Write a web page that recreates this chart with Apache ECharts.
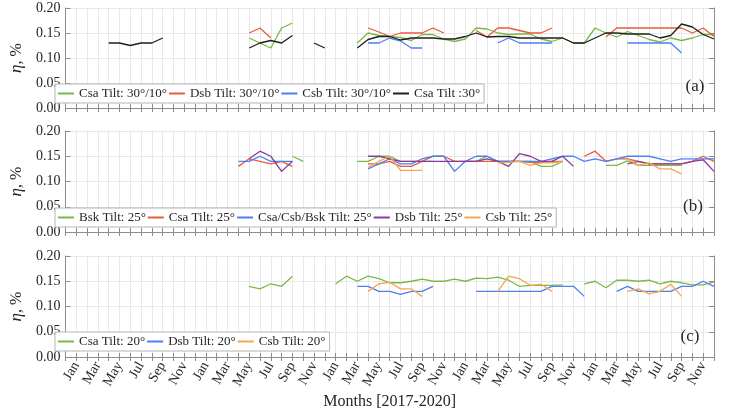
<!DOCTYPE html>
<html><head><meta charset="utf-8">
<script src="https://cdn.jsdelivr.net/npm/echarts@6/dist/echarts.min.js"></script>
<style>html,body{margin:0;padding:0;background:#fff}#c{width:731px;height:415px}</style>
</head><body><div id="c"></div><script>
// ---------- categories ----------
const months = ['Jan','Feb','Mar','Apr','May','Jun','Jul','Aug','Sep','Oct','Nov','Dec'];
const years = [2016, 2017, 2018, 2019, 2020];
const labelMonths = ['Jan','Mar','May','Jul','Sep','Nov'];
const categories = ['Dec 2015'].concat(years.flatMap(y => months.map(m => m + ' ' + y)));
const yTicks = [0, 0.05, 0.10, 0.15, 0.20];

// ---------- panel (a): tilt 30/10 ----------
const a_csa_30_10 = [['May 2017', [0.14,0.13,0.12,0.16,0.17]],
  ['Mar 2018', [0.13,0.15,0.145,0.143,0.141,0.135,0.147,0.147,0.138,0.133,0.138,0.16,0.158,0.15,0.147,0.148,0.148,0.138,0.133,0.14,0.13,0.13,0.16,0.15,0.142,0.153,0.145,0.137,0.132,0.14,0.135,0.14,0.147,0.147]]];
const a_dsb_30_10 = [['May 2017', [0.15,0.16,0.14]],
  ['Apr 2018', [0.16,0.152,0.143,0.15,0.15,0.15,0.16,0.15]],
  ['Feb 2019', [0.155,0.142,0.16,0.16,0.155,0.15,0.15,0.16]],
  ['Feb 2020', [0.142,0.16,0.16,0.16,0.16,0.16,0.16,0.16,0.15,0.16,0.143]]];
const a_csb_30_10 = [['Apr 2018', [0.13,0.13,0.14,0.134,0.12,0.12]],
  ['Apr 2019', [0.13,0.14,0.13,0.13,0.13,0.13]],
  ['Apr 2020', [0.13,0.13,0.13,0.13,0.13,0.11]]];
const a_csa_30 = [['Apr 2016', [0.13,0.13,0.125,0.13,0.13,0.14]],
  ['May 2017', [0.12,0.13,0.135,0.13,0.145]],
  ['Nov 2017', [0.13,0.12]],
  ['Mar 2018', [0.12,0.137,0.143,0.143,0.136,0.14,0.14,0.14,0.138,0.138,0.143,0.15,0.142,0.143,0.143,0.14,0.14,0.14,0.14,0.14,0.13,0.13,0.14,0.15,0.15,0.148,0.148,0.148,0.14,0.145,0.168,0.162,0.147,0.138]]];

// ---------- panel (b): tilt 25 ----------
const b_bsk_25 = [['Sep 2017', [0.15,0.14]],
  ['Mar 2018', [0.14,0.14,0.15,0.15,0.14,0.14,0.14,0.14]],
  ['Jan 2019', [0.14,0.14,0.15,0.14,0.14,0.14,0.14,0.13,0.13,0.14]],
  ['Feb 2020', [0.132,0.132,0.141,0.132,0.132,0.132,0.132,0.132]]];
const b_csa_25 = [['Apr 2017', [0.13,0.145,0.14,0.135,0.14,0.13]],
  ['Apr 2018', [0.135,0.135,0.14,0.13,0.13,0.14,0.15,0.15,0.14,0.14,0.14,0.14,0.14,0.14,0.14,0.138,0.138,0.14,0.14]],
  ['Dec 2019', [0.15,0.16,0.14,0.145,0.145,0.14,0.135,0.135,0.135,0.135,0.14,0.15,0.14]]];
const b_csacsbbsk_25 = [['Apr 2017', [0.14,0.14,0.15,0.14,0.14,0.14]],
  ['Apr 2018', [0.125,0.135,0.145,0.135,0.135,0.145,0.15,0.15,0.12,0.14,0.15,0.15,0.14,0.14,0.14,0.14,0.14,0.145,0.15,0.15,0.14,0.145,0.14,0.145,0.15,0.15,0.15,0.145,0.14,0.145,0.145,0.145,0.145]]];
const b_dsb_25 = [['May 2017', [0.145,0.16,0.15,0.12,0.14]],
  ['Apr 2018', [0.15,0.15,0.145,0.14,0.14,0.14,0.14,0.14,0.14,0.14,0.14,0.145,0.14,0.13,0.155,0.15,0.14,0.14,0.15,0.13]],
  ['Apr 2020', [0.135,0.14,0.135,0.135,0.135,0.135,0.14,0.143,0.12]]];
const b_csb_25 = [['Apr 2018', [0.128,0.14,0.15,0.122,0.122,0.122]],
  ['Apr 2019', [0.137,0.138,0.14,0.132,0.137,0.137,0.14]],
  ['Apr 2020', [0.145,0.132,0.137,0.125,0.125,0.115]]];

// ---------- panel (c): tilt 20 ----------
const c_csa_20 = [['May 2017', [0.14,0.135,0.145,0.14,0.16]],
  ['Jan 2018', [0.145,0.16,0.15,0.16,0.155,0.147,0.147,0.15,0.154,0.15,0.15,0.154,0.15,0.156,0.155,0.158,0.152,0.14,0.142,0.142,0.142,0.143]],
  ['Dec 2019', [0.145,0.15,0.137,0.152,0.152,0.15,0.152,0.145,0.15,0.147,0.143,0.143,0.149]]];
const c_dsb_20 = [['Mar 2018', [0.14,0.14,0.13,0.13,0.124,0.13,0.13,0.14]],
  ['Feb 2019', [0.13,0.13,0.13,0.13,0.13,0.13,0.13,0.14,0.14,0.14,0.12]],
  ['Mar 2020', [0.13,0.14,0.13,0.13,0.13,0.13,0.14,0.14,0.15,0.14]]];
const c_csb_20 = [['Apr 2018', [0.13,0.145,0.148,0.135,0.135,0.12]],
  ['Apr 2019', [0.13,0.16,0.155,0.142,0.144,0.13]],
  ['Apr 2020', [0.13,0.135,0.125,0.13,0.144,0.12]]];

// ---------- build ----------
function build(segs){
  const arr = new Array(categories.length).fill(null);
  segs.forEach(([start, vals]) => {
    const s = categories.indexOf(start);
    vals.forEach((v, k) => { arr[s + k] = v; });
  });
  return arr;
}
const C = {green:'#7bb947', red:'#ec5a3e', blue:'#4d7ff0', black:'#1e1e1e', purple:'#8a3a9e', orange:'#f6a64c'};
const panels = [
  {label:'(a)', series:[
    ['Csa Tilt: 30°/10°', a_csa_30_10, C.green],
    ['Dsb Tilt: 30°/10°', a_dsb_30_10, C.red],
    ['Csb Tilt: 30°/10°', a_csb_30_10, C.blue],
    ['Csa Tilt :30°', a_csa_30, C.black]]},
  {label:'(b)', series:[
    ['Bsk Tilt: 25°', b_bsk_25, C.green],
    ['Csa Tilt: 25°', b_csa_25, C.red],
    ['Csa/Csb/Bsk Tilt: 25°', b_csacsbbsk_25, C.blue],
    ['Dsb Tilt: 25°', b_dsb_25, C.purple],
    ['Csb Tilt: 25°', b_csb_25, C.orange]]},
  {label:'(c)', series:[
    ['Csa Tilt: 20°', c_csa_20, C.green],
    ['Dsb Tilt: 20°', c_dsb_20, C.blue],
    ['Csb Tilt: 20°', c_csb_20, C.orange]]}
];
const FONT = "'Liberation Serif','Times New Roman',serif";
const AX = '#8c8c8c', GRIDC = '#e8e8e8', TXT = '#262626';
const grids = [{top:8, height:100}, {top:131, height:101}, {top:256, height:101}];
const legendTops = [84, 208, 332];
const labelPos = [[695, 87], [693, 207], [690, 337]];

const option = {animation:false, backgroundColor:'#fff',
  grid: grids.map(g => ({left:52, right:17, top:g.top, height:g.height})),
  xAxis:[], yAxis:[], series:[], legend:[], graphic:[]};

panels.forEach((p, gi) => {
  const last = gi === 2;
  option.xAxis.push({type:'category', gridIndex:gi, data:categories, boundaryGap:false,
    axisLine:{show:true, lineStyle:{color:AX}},
    axisTick:{show:true, inside:true, interval:0, length:4, lineStyle:{color:AX}},
    splitLine:{show:true, interval:0, lineStyle:{color:GRIDC}},
    axisLabel:{show:last, rotate:60, margin:6, fontSize:14, fontFamily:FONT, color:TXT,
      interval:(i, v) => labelMonths.indexOf(v.split(' ')[0]) >= 0 && i > 0,
      formatter: v => v.split(' ')[0]},
    name: last ? 'Months [2017-2020]' : '', nameLocation:'middle', nameGap:37,
    nameTextStyle:{fontSize:16, fontFamily:FONT, color:TXT}});
  option.xAxis.push({type:'category', gridIndex:gi, data:categories, boundaryGap:false, position:'top',
    axisLine:{show:true, lineStyle:{color:AX}},
    axisTick:{show:true, inside:true, interval:0, length:4, lineStyle:{color:AX}},
    axisLabel:{show:false}, splitLine:{show:false}});
  option.yAxis.push({type:'value', gridIndex:gi, min:0, max:0.2, interval:0.05,
    axisLine:{show:true, lineStyle:{color:AX}},
    axisTick:{show:true, inside:true, length:5, lineStyle:{color:AX}},
    splitLine:{show:true, lineStyle:{color:GRIDC}},
    axisLabel:{fontSize:14, fontFamily:FONT, color:TXT, margin:5, formatter: v => v.toFixed(2)},
    name:'{i|η}, %', nameLocation:'middle', nameGap:31,
    nameTextStyle:{fontSize:16, fontFamily:FONT, color:TXT, rich:{i:{fontStyle:'italic', fontSize:17, fontFamily:FONT, color:TXT}}}});
  option.yAxis.push({type:'value', gridIndex:gi, min:0, max:0.2, interval:0.05, position:'right',
    axisLine:{show:true, lineStyle:{color:AX}},
    axisTick:{show:true, inside:true, length:5, lineStyle:{color:AX}},
    axisLabel:{show:false}, splitLine:{show:false}});
  const names = [];
  p.series.forEach(([name, segs, color]) => {
    names.push(name);
    option.series.push({type:'line', name, xAxisIndex:gi*2, yAxisIndex:gi*2, data:build(segs),
      symbol:'none', connectNulls:false, color, lineStyle:{color, width:1.3}, z:3});
  });
  option.legend.push({data:names, left:55, top:legendTops[gi], orient:'horizontal',
    icon:'rect', itemWidth:16, itemHeight:2, itemGap:2,
    backgroundColor:'#fff', borderColor:'#b5b5b5', borderWidth:1, borderRadius:0, padding:[3,4,3,3],
    textStyle:{fontSize:13, fontFamily:FONT, color:TXT}, selectedMode:false});
  option.graphic.push({type:'text', x:labelPos[gi][0], y:labelPos[gi][1], z:100,
    style:{text:p.label, font:'17px ' + FONT, fill:TXT, textAlign:'center', textVerticalAlign:'middle'}});
});

const chart = echarts.init(document.getElementById('c'), null, {renderer:'canvas'});
chart.setOption(option);
</script></body></html>
